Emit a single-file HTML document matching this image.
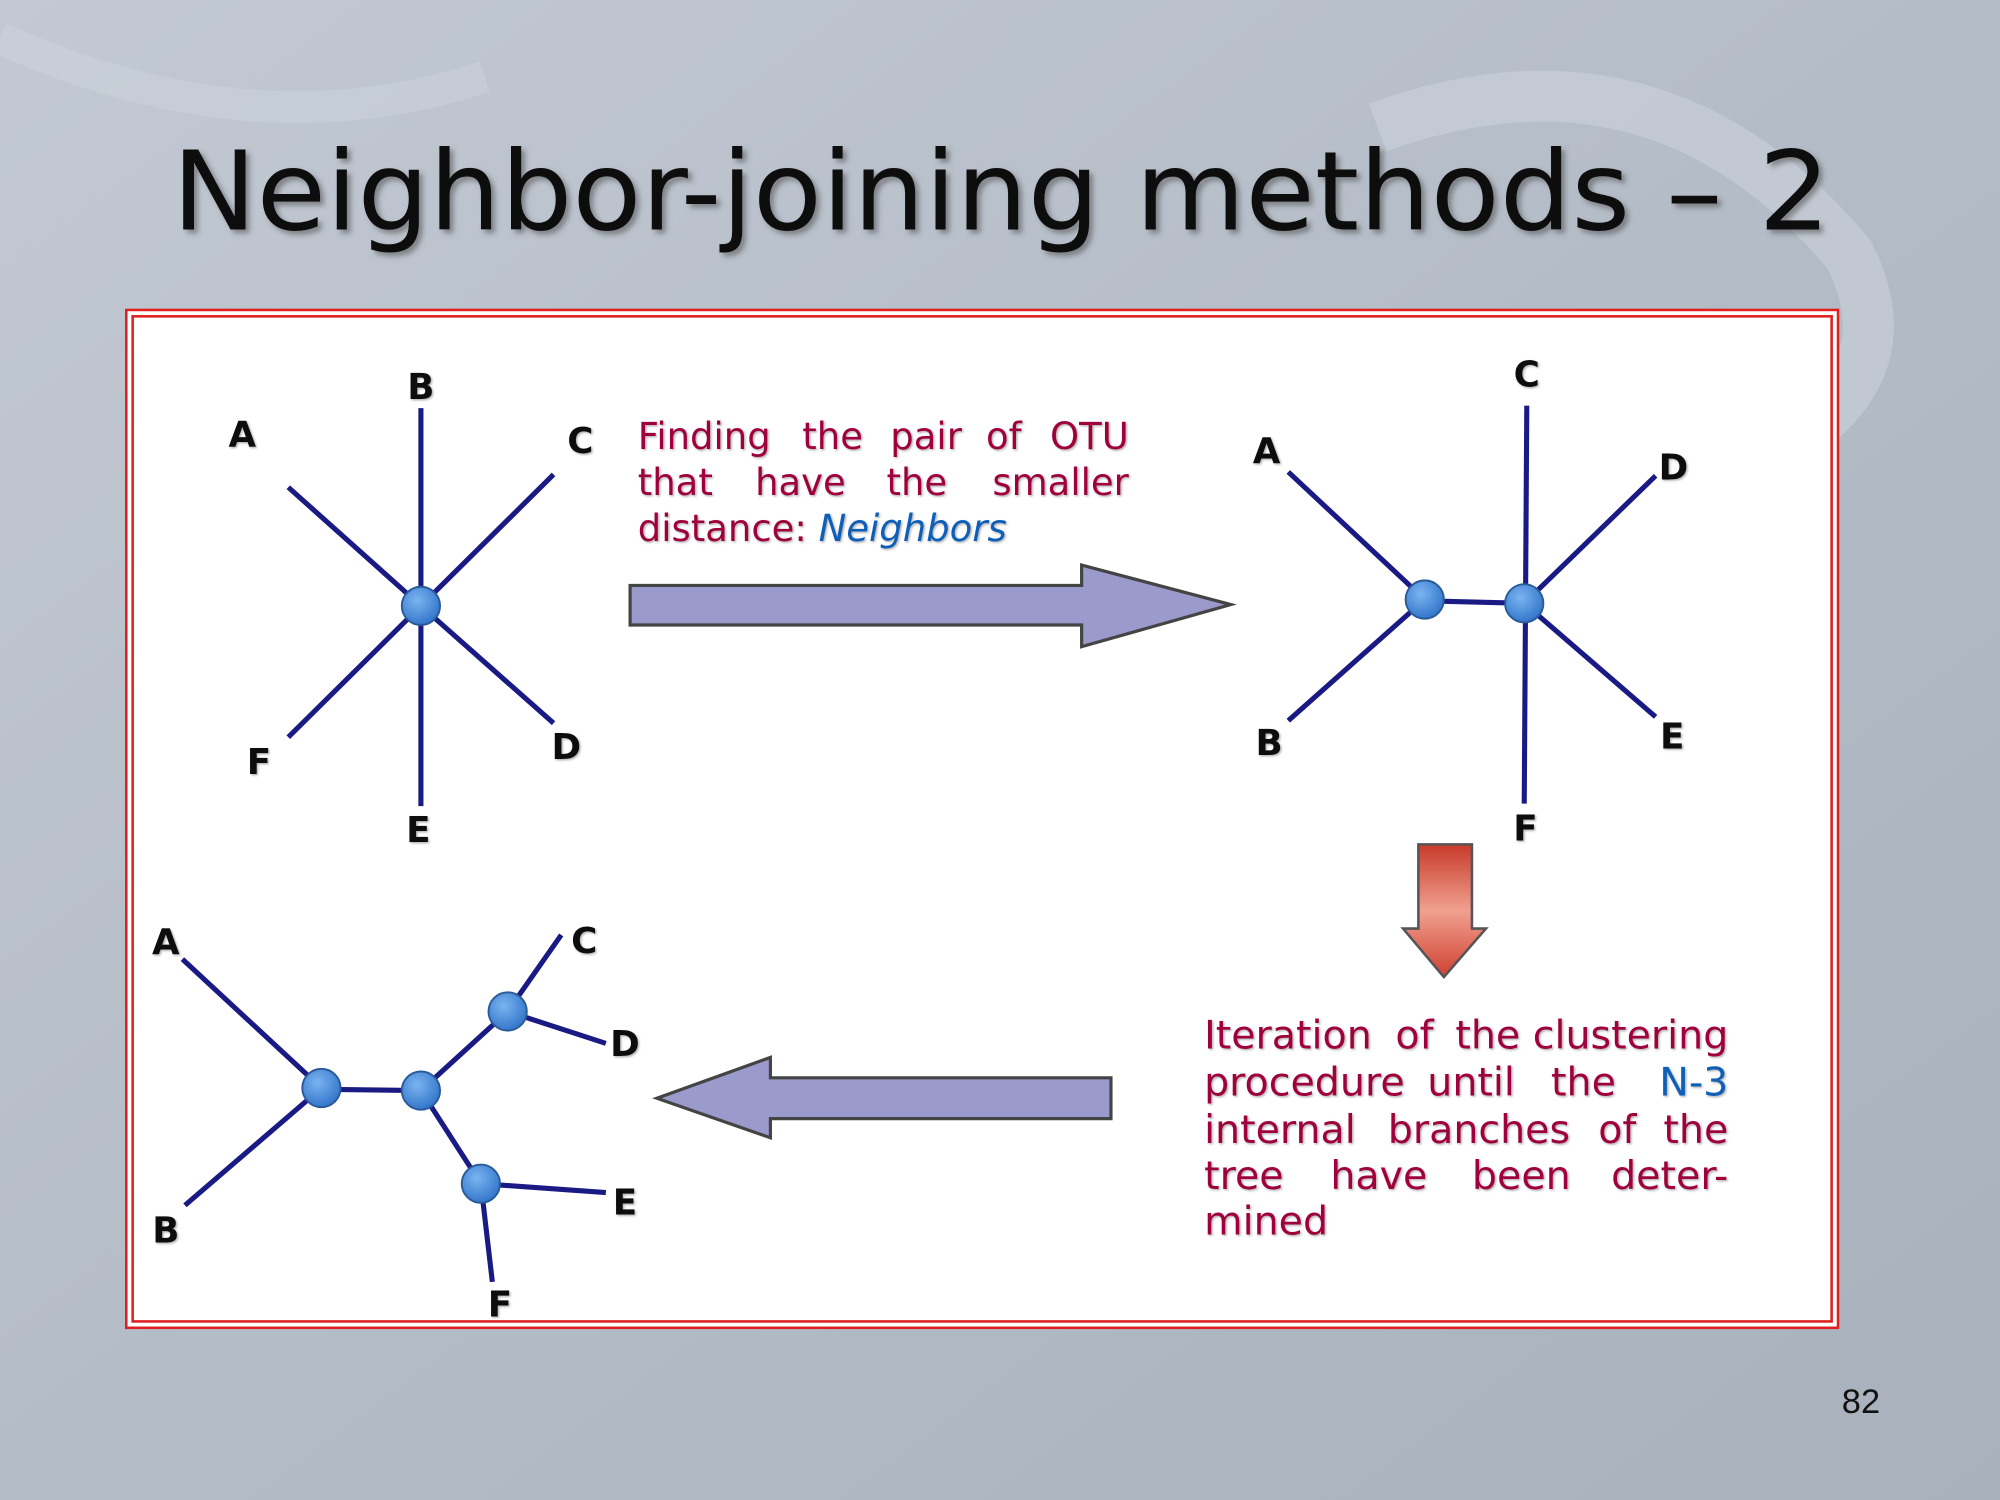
<!DOCTYPE html>
<html><head><meta charset="utf-8"><style>
html,body{margin:0;padding:0;width:2000px;height:1500px;overflow:hidden;}
svg{display:block}
</style></head><body>
<svg width="2000" height="1500" viewBox="0 0 1568 1176" xmlns="http://www.w3.org/2000/svg">
<defs>
<linearGradient id="bg" x1="0" y1="0" x2="1" y2="1">
<stop offset="0" stop-color="#c2c9d3"/><stop offset="0.5" stop-color="#b4bcc7"/><stop offset="1" stop-color="#a9b1bc"/>
</linearGradient>
<radialGradient id="nd" cx="0.4" cy="0.35" r="0.7">
<stop offset="0" stop-color="#7ab4f0"/><stop offset="1" stop-color="#2f72c8"/>
</radialGradient>
<linearGradient id="red" x1="0" y1="0" x2="0" y2="1">
<stop offset="0" stop-color="#c83a2a"/><stop offset="0.5" stop-color="#f0a090"/><stop offset="1" stop-color="#d04030"/>
</linearGradient>
<filter id="sh"><feDropShadow dx="3" dy="3" stdDeviation="2" flood-color="#555" flood-opacity="0.6"/></filter>
<filter id="sh2"><feDropShadow dx="1" dy="1" stdDeviation="0.8" flood-color="#777" flood-opacity="0.6"/></filter>
</defs>
<rect width="1568" height="1176" fill="url(#bg)"/>
<path d="M1080 100 Q1300 20 1450 200 Q1500 300 1380 360" fill="none" stroke="#d0d6de" stroke-width="40" opacity="0.5"/>
<path d="M0 30 Q200 120 380 60" fill="none" stroke="#d0d6de" stroke-width="25" opacity="0.4"/>
<text x="135" y="180" textLength="1300" lengthAdjust="spacingAndGlyphs" font-family="DejaVu Sans, Liberation Sans, sans-serif" font-size="86" fill="#111" filter="url(#sh)">Neighbor-joining methods – 2</text>

<rect x="99" y="243" width="1342" height="798" fill="#fff" stroke="#e02020" stroke-width="2"/>
<rect x="104" y="248" width="1332" height="788" fill="#fff" stroke="#e02020" stroke-width="2"/>

<g stroke="#1a1a85" stroke-width="4" fill="none">
<line x1="330" y1="475" x2="330" y2="320"/><line x1="330" y1="475" x2="330" y2="632"/>
<line x1="330" y1="475" x2="226" y2="382"/><line x1="330" y1="475" x2="434" y2="372"/>
<line x1="330" y1="475" x2="226" y2="578"/><line x1="330" y1="475" x2="434" y2="567"/>

<line x1="1117" y1="470" x2="1010" y2="370"/><line x1="1117" y1="470" x2="1010" y2="565"/>
<line x1="1117" y1="471" x2="1195" y2="473"/>
<line x1="1197" y1="318" x2="1195" y2="630"/>
<line x1="1195" y1="473" x2="1298" y2="373"/><line x1="1195" y1="473" x2="1298" y2="562"/>

<line x1="252" y1="853" x2="143" y2="752"/><line x1="252" y1="853" x2="145" y2="945"/>
<line x1="252" y1="854" x2="330" y2="855"/><line x1="330" y1="855" x2="398" y2="793"/>
<line x1="398" y1="793" x2="440" y2="733"/><line x1="398" y1="793" x2="475" y2="818"/>
<line x1="330" y1="855" x2="377" y2="928"/><line x1="377" y1="928" x2="475" y2="935"/>
<line x1="377" y1="928" x2="386" y2="1005"/>
</g>
<g fill="url(#nd)" stroke="#2a5a9a" stroke-width="1.5">
<circle cx="330" cy="475" r="15"/>
<circle cx="1117" cy="470" r="15"/><circle cx="1195" cy="473" r="15"/>
<circle cx="252" cy="853" r="15"/><circle cx="330" cy="855" r="15"/><circle cx="398" cy="793" r="15"/><circle cx="377" cy="928" r="15"/>
</g>
<g font-family="DejaVu Sans, Liberation Sans, sans-serif" font-size="28" font-weight="bold" fill="#111" text-anchor="middle" filter="url(#sh2)">
<text x="190" y="350">A</text><text x="330" y="313">B</text><text x="455" y="355">C</text><text x="203" y="607">F</text><text x="444" y="595">D</text><text x="328" y="660">E</text>
<text x="993" y="363">A</text><text x="995" y="592">B</text><text x="1197" y="303">C</text><text x="1312" y="376">D</text><text x="1311" y="587">E</text><text x="1196" y="659">F</text>
<text x="130" y="748">A</text><text x="130" y="974">B</text><text x="458" y="747">C</text><text x="490" y="828">D</text><text x="490" y="952">E</text><text x="392" y="1032">F</text>
</g>

<polygon points="494,459 848,459 848,443 965,474 848,507 848,490 494,490" fill="#9a9acc" stroke="#444" stroke-width="2.5"/>
<polygon points="871,845 604,845 604,829 515,861 604,892 604,877 871,877" fill="#9a9acc" stroke="#444" stroke-width="2.5"/>
<polygon points="1112,662 1154,662 1154,728 1165,728 1132,766 1100,728 1112,728" fill="url(#red)" stroke="#555" stroke-width="2"/>

<g font-family="DejaVu Sans, Liberation Sans, sans-serif" font-size="29" fill="#a0003c" filter="url(#sh2)">
<text x="500" y="352">Finding</text><text x="629" y="352">the</text><text x="698" y="352">pair</text><text x="773" y="352">of</text><text x="885" y="352" text-anchor="end">OTU</text>
<text x="500" y="388">that</text><text x="592" y="388">have</text><text x="695" y="388">the</text><text x="885" y="388" text-anchor="end">smaller</text>
<text x="500" y="424">distance: <tspan fill="#1060b8" font-style="italic">Neighbors</tspan></text>
</g>
<g font-family="DejaVu Sans, Liberation Sans, sans-serif" font-size="31" fill="#a0003c" filter="url(#sh2)">
<text x="944" y="822">Iteration</text><text x="1094" y="822">of</text><text x="1141" y="822">the</text><text x="1355" y="822" text-anchor="end">clustering</text>
<text x="944" y="859">procedure</text><text x="1119" y="859">until</text><text x="1216" y="859">the</text><text x="1355" y="859" text-anchor="end" fill="#1060b8">N-3</text>
<text x="944" y="896">internal</text><text x="1088" y="896">branches</text><text x="1253" y="896">of</text><text x="1355" y="896" text-anchor="end">the</text>
<text x="944" y="932">tree</text><text x="1043" y="932">have</text><text x="1154" y="932">been</text><text x="1355" y="932" text-anchor="end">deter-</text>
<text x="944" y="968">mined</text>
</g>
<text x="1474" y="1108" text-anchor="end" font-family="Liberation Sans, sans-serif" font-size="27" fill="#111">82</text>
</svg>
</body></html>
